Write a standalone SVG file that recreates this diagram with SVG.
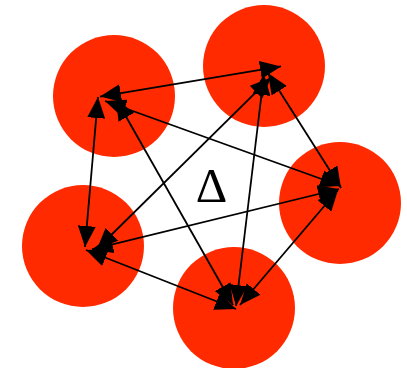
<svg xmlns="http://www.w3.org/2000/svg" width="407" height="368" viewBox="0 0 407 368">
  <style>
    .node { fill: #ff2a00; stroke: none; }
    .edge { stroke: #000; stroke-width: 1.8; fill: none; marker-start: url(#ah); marker-end: url(#ah); }
    .lbl { font-family: "Liberation Serif", "DejaVu Serif", serif; font-size: 49px; fill: #000; }
  </style>
  <defs>
    <marker id="ah" markerUnits="userSpaceOnUse" markerWidth="21" markerHeight="18" refX="21" refY="9" orient="auto-start-reverse" viewBox="0 0 21 18">
      <path d="M0,0 L21,9 L0,18 z" fill="#000"/>
    </marker>
  </defs>
  <rect width="407" height="368" fill="#fff"/>
  <g id="node-a"><circle class="node" cx="114" cy="96" r="61"/></g>
  <g id="node-b"><circle class="node" cx="264" cy="66" r="61"/></g>
  <g id="node-c"><circle class="node" cx="340" cy="203" r="61"/></g>
  <g id="node-d"><circle class="node" cx="83" cy="246" r="61"/></g>
  <g id="node-e"><circle class="node" cx="234" cy="308" r="61"/></g>
  <g id="connectors">
    <line class="edge" x1="100" y1="96.6" x2="281" y2="66.4"/>
    <line class="edge" x1="105" y1="101" x2="341" y2="186"/>
    <line class="edge" x1="98" y1="97" x2="85" y2="247"/>
    <line class="edge" x1="116" y1="99" x2="233" y2="305"/>
    <line class="edge" x1="268" y1="73" x2="341" y2="188"/>
    <line class="edge" x1="271" y1="77.4" x2="97" y2="249"/>
    <line class="edge" x1="264" y1="74" x2="236" y2="306"/>
    <line class="edge" x1="339" y1="189" x2="92" y2="249.4"/>
    <line class="edge" x1="338" y1="190" x2="240" y2="305"/>
    <line class="edge" x1="86" y1="250" x2="236" y2="309"/>
  </g>
  <g id="label-delta"><text class="lbl" x="211.5" y="202" text-anchor="middle">Δ</text></g>
</svg>
